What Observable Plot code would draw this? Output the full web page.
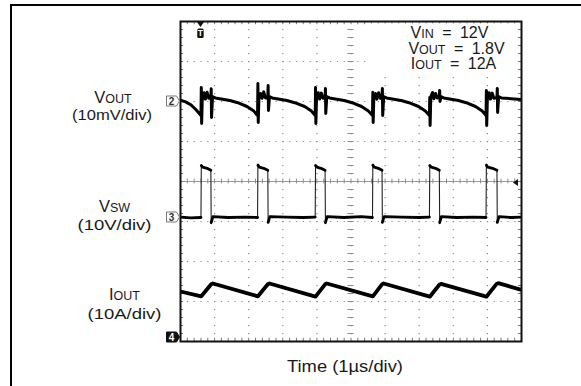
<!DOCTYPE html>
<html><head><meta charset="utf-8">
<script src="https://cdn.jsdelivr.net/npm/d3@7"></script>
<script src="https://cdn.jsdelivr.net/npm/@observablehq/plot@0.6"></script>
<style>
html,body{margin:0;padding:0;background:#fff;}
#wrap{position:relative;width:581px;height:386px;overflow:hidden;font-family:"Liberation Sans",Arial,sans-serif;}
#outer{position:absolute;left:10px;top:4px;width:620px;height:420px;border-top:2px solid #000;border-left:2px solid #000;}
#chart{position:absolute;left:0;top:0;}
</style></head><body>
<div id="wrap"><div id="outer"></div><div id="chart"></div></div>
<script>
// ---- scope settings ----
const timeDomain = [0, 10];          // µs, 1 µs/div
const divDomain = [-4, 4];           // vertical divisions
const voutOffsetDiv = 2.0,  voutPerDiv = 10;   // mV/div (AC ripple)
const vswOffsetDiv = -0.9,  vswPerDiv = 10;    // V/div
const ioutOffsetDiv = -3.9, ioutPerDiv = 10;   // A/div
const triggerTime = 0.6;             // µs
const triggerLevelDiv = 0;

// ---- labels ----
const channelNames = [["V", "OUT"], ["V", "SW"], ["I", "OUT"]];
const channelScales = ["(10mV/div)", "(10V/div)", "(10A/div)"];
const conditions = [["V", "IN", " = 12V"], ["V", "OUT", " = 1.8V"], ["I", "OUT", " = 12A"]];
const timeLabel = "Time (1µs/div)";

// ---- traces: [time µs, value] ----
const voutTrace = [ // mV ripple
[0.00,0.3],[0.15,-0.1],[0.30,-0.8],[0.45,-2.0],[0.60,-3.5],
[0.61,3.5],[0.62,-5.5],[0.64,1.2],[0.69,2.2],[0.73,0.6],[0.78,2.3],[0.83,0.8],[0.89,1.0],
[0.90,3.2],[0.91,-4.0],[0.94,1.2],[1.02,0.9],[1.45,0.25],[1.68,-0.3],[1.95,-1.25],[2.15,-2.4],[2.26,-3.5],
[2.27,4.5],[2.28,-5.25],[2.30,1.2],[2.35,2.0],[2.39,0.8],[2.44,2.4],[2.49,0.9],[2.56,1.0],
[2.57,4.0],[2.58,-2.25],[2.61,1.2],[2.69,0.9],[3.12,0.25],[3.35,-0.3],[3.64,-1.25],[3.84,-2.4],[3.95,-3.5],
[3.96,3.5],[3.97,-5.5],[3.99,1.2],[4.04,2.2],[4.08,0.6],[4.13,2.1],[4.18,0.8],[4.24,1.0],
[4.25,3.25],[4.26,-3.0],[4.29,1.2],[4.37,0.9],[4.80,0.25],[5.03,-0.3],[5.31,-1.25],[5.51,-2.4],[5.63,-3.5],
[5.64,2.3],[5.65,-5.25],[5.67,1.2],[5.72,2.0],[5.76,0.6],[5.81,2.2],[5.86,0.8],[5.91,1.0],
[5.92,3.25],[5.93,-3.5],[5.96,1.2],[6.04,0.9],[6.47,0.25],[6.70,-0.3],[6.98,-1.25],[7.18,-2.4],[7.30,-3.5],
[7.31,1.0],[7.32,-6.0],[7.34,1.2],[7.39,2.25],[7.43,0.7],[7.48,2.0],[7.53,0.9],[7.59,1.0],
[7.60,2.75],[7.61,0.0],[7.64,1.2],[7.72,0.9],[8.15,0.25],[8.38,-0.3],[8.65,-1.25],[8.85,-2.4],[8.96,-3.5],
[8.97,2.75],[8.98,-6.0],[9.00,1.2],[9.05,2.2],[9.09,0.6],[9.14,2.1],[9.19,0.8],[9.28,1.0],
[9.29,3.25],[9.30,-2.75],[9.33,1.2],[9.41,0.9],[10.0,0.5]
];
const vswTrace = [ // V
[0.00,0.1],[0.30,-0.1],[0.60,0.0],
[0.61,13.0],[0.65,12.6],[0.78,12.3],[0.89,11.8],
[0.90,-1.3],[0.95,0.2],[1.40,0.0],[1.90,0.1],[2.26,0.0],
[2.27,13.1],[2.31,12.6],[2.44,12.3],[2.56,11.8],
[2.57,-1.2],[2.62,0.2],[3.10,0.1],[3.60,0.0],[3.95,0.1],
[3.96,13.0],[4.00,12.6],[4.12,12.3],[4.24,11.8],
[4.25,-1.3],[4.30,0.2],[4.80,0.0],[5.30,0.2],[5.63,0.0],
[5.64,13.1],[5.68,12.6],[5.80,12.3],[5.91,11.8],
[5.92,-1.2],[5.97,0.2],[6.50,0.1],[7.00,0.0],[7.30,0.1],
[7.31,13.0],[7.35,12.6],[7.48,12.3],[7.59,11.8],
[7.60,-1.3],[7.65,0.2],[8.10,0.0],[8.60,0.1],[8.96,0.0],
[8.97,13.1],[9.01,12.6],[9.15,12.3],[9.28,11.8],
[9.29,-1.2],[9.34,0.2],[9.70,0.0],[10.0,0.1]
];
const ioutTrace = [ // A
[0.00,11.5],[0.61,10.3],[0.90,13.3],[0.95,13.5],[2.27,10.3],[2.56,13.3],[2.61,13.5],
[3.96,10.2],[4.24,13.3],[4.29,13.5],[5.64,10.3],[5.91,13.3],[5.96,13.5],
[7.31,10.2],[7.59,13.2],[7.64,13.4],[8.97,10.2],[9.27,13.4],[9.32,13.6],[10.0,11.9]
];

// split switch-node trace into flat (noisy, thick) segments
let seg = 0;
const vswSegs = vswTrace.map((d, i) => {
  if (i > 0 && Math.abs(d[1] - vswTrace[i-1][1]) > 5) seg++;
  return {t: d[0], v: d[1], seg};
});

const majorX = d3.range(1, 10).filter(d => d !== 5);
const majorY = d3.range(-3, 4).filter(d => d !== 0);
const minorX = d3.range(0, 10.001, 0.2);
const minorY = d3.range(-4, 4.001, 0.2);
const gridColor = "#8c8c8c";

const chart = Plot.plot({
  width: 581, height: 386,
  marginLeft: 180, marginRight: 60, marginTop: 21, marginBottom: 45,
  x: {domain: timeDomain, axis: null},
  y: {domain: divDomain, axis: null},
  style: {background: "transparent", fontFamily: "Liberation Sans, Arial, sans-serif"},
  marks: [
    Plot.ruleX(majorX, {stroke: gridColor, strokeWidth: 1.2, strokeDasharray: "1.2,6.8"}),
    Plot.ruleY(majorY, {stroke: gridColor, strokeWidth: 1.2, strokeDasharray: "1.2,5.62"}),
    Plot.ruleY([0], {stroke: "#9a9a9a", strokeWidth: 1}),
    Plot.ruleX([5], {stroke: gridColor, strokeWidth: 1.2, strokeDasharray: "1.2,6.8"}),
    Plot.ruleX(minorX, {y1: -0.06, y2: 0.06, stroke: gridColor}),
    Plot.ruleY(minorY, {x1: 4.91, x2: 5.09, stroke: gridColor}),
    Plot.ruleX(minorX, {y1: 4, y2: 3.92, stroke: "#777"}),
    Plot.ruleX(minorX, {y1: -4, y2: -3.92, stroke: "#777"}),
    Plot.ruleY(minorY, {x1: 0, x2: 0.09, stroke: "#777"}),
    Plot.ruleY(minorY, {x1: 10, x2: 9.91, stroke: "#777"}),
    Plot.rect([0], {x1: 5.45, x2: 9.9, y1: 2.7, y2: 3.94, fill: "white"}),
    Plot.line(voutTrace, {x: d => d[0], y: d => voutOffsetDiv + d[1] / voutPerDiv,
      stroke: "#000", strokeWidth: 3, strokeLinejoin: "round", clip: true}),
    Plot.line(vswSegs, {x: "t", y: d => vswOffsetDiv + d.v / vswPerDiv,
      stroke: "#222", strokeWidth: 1.1, clip: true}),
    Plot.line(vswSegs, {x: "t", y: d => vswOffsetDiv + d.v / vswPerDiv, z: "seg",
      stroke: "#000", strokeWidth: 2.8, clip: true}),
    Plot.line(ioutTrace, {x: d => d[0], y: d => ioutOffsetDiv + d[1] / ioutPerDiv,
      stroke: "#000", strokeWidth: 3.8, strokeLinejoin: "round", clip: true}),
    Plot.frame({stroke: "#111", strokeWidth: 2})
  ]
});
document.getElementById("chart").appendChild(chart);

const sx = chart.scale("x"), sy = chart.scale("y");
const svg = d3.select(chart);
const x0 = sx.apply(0);

// channel markers
function marker(id, div, dark) {
  const y = sy.apply(div);
  const g = svg.append("g");
  g.append("path")
    .attr("d", `M${x0-13.5},${y-5} H${x0-3.5} L${x0-0.5},${y} L${x0-3.5},${y+5} H${x0-13.5} Z`)
    .attr("fill", dark ? "#111" : "#fff").attr("stroke", dark ? "#111" : "#777").attr("stroke-width", 1);
  g.append("text").attr("x", x0-8.5).attr("y", y+3.5).attr("text-anchor", "middle")
    .attr("font-size", 10).attr("font-weight", "bold").attr("fill", dark ? "#fff" : "#333").text(id);
}
marker("2", voutOffsetDiv, false);
marker("3", vswOffsetDiv, false);
marker("4", ioutOffsetDiv, true);

// trigger position marker
const tx = sx.apply(triggerTime), ty = sy.apply(4);
svg.append("path").attr("d", `M${tx-3.5},${ty+1} L${tx+3.5},${ty+1} L${tx},${ty+6} Z`).attr("fill", "#111");
svg.append("rect").attr("x", tx-3.2).attr("y", ty+7.5).attr("width", 6.4).attr("height", 9.5).attr("rx", 1.5).attr("fill", "#111");
svg.append("text").attr("x", tx).attr("y", ty+15.3).attr("text-anchor", "middle").attr("font-size", 8.5)
  .attr("font-weight", "bold").attr("fill", "#fff").text("T");
// trigger level marker
const lx = sx.apply(10), ly = sy.apply(triggerLevelDiv);
svg.append("path").attr("d", `M${lx-8},${ly+1.5} L${lx-3},${ly-2} L${lx-3},${ly+5} Z`).attr("fill", "#111");

function newText() {
  return svg.append("text").attr("fill", "#1a1a1a")
    .attr("font-family", "Liberation Sans, Arial, sans-serif").attr("text-anchor", "middle");
}
// channel labels: name line + scale line in one text block
const labelPos = [[113, 102.5, 112, 120, 80], [114.5, 211.5, 114.5, 230, 74], [124.5, 300, 124.5, 318.5, 74]];
channelNames.forEach((n, i) => {
  const [nx, ny, sxp, syp, w] = labelPos[i];
  const t = newText();
  t.append("tspan").attr("x", nx).attr("y", ny).attr("font-size", 16.5).text(n[0]);
  t.append("tspan").attr("font-size", 12.5).text(n[1]);
  t.append("tspan").attr("x", sxp).attr("y", syp).attr("font-size", 15.5)
    .attr("textLength", w).attr("lengthAdjust", "spacingAndGlyphs").text(channelScales[i]);
});
// conditions block
const condCx = [449.5, 456.5, 453.5];
const ct = newText().attr("word-spacing", 4);
conditions.forEach((c, i) => {
  ct.append("tspan").attr("x", condCx[i]).attr("y", 38.3 + 15.5 * i).attr("font-size", 16).text(c[0]);
  ct.append("tspan").attr("font-size", 12.5).text(c[1]);
  ct.append("tspan").attr("font-size", 16).text(c[2]);
});
// time label
newText().attr("x", 345).attr("y", 371.5).attr("font-size", 16.5)
  .attr("textLength", 116).attr("lengthAdjust", "spacingAndGlyphs").text(timeLabel);
</script>
</body></html>
